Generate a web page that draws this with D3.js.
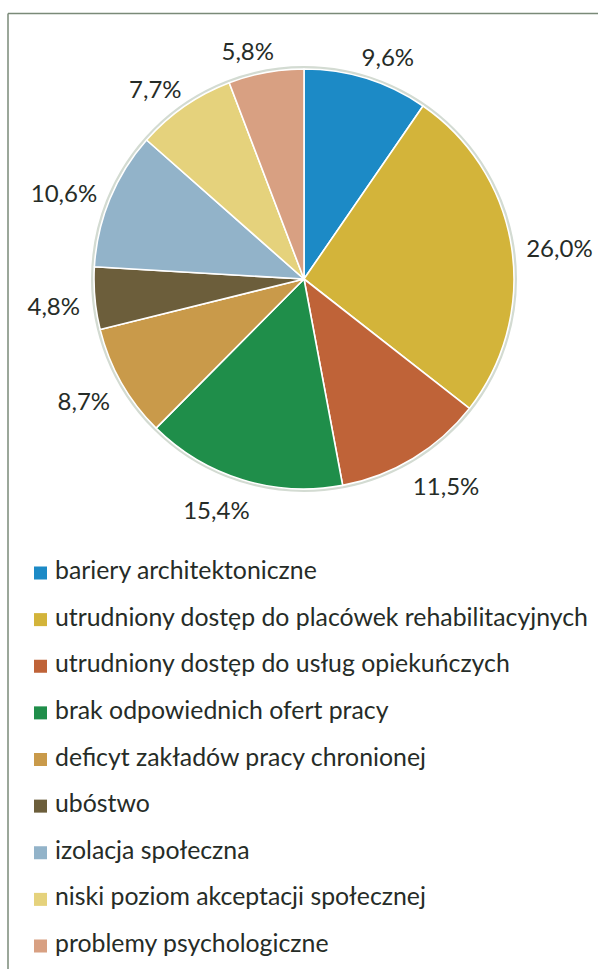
<!DOCTYPE html>
<html>
<head>
<meta charset="utf-8">
<script src="https://cdn.jsdelivr.net/npm/d3@7"></script>
<style>
  html, body { margin: 0; padding: 0; background: #ffffff; }
  svg { display: block; }
  text { font-family: Lato, "Noto Sans", sans-serif; fill: #262c27; }
</style>
</head>
<body>
<svg id="chart" width="598" height="969"></svg>
<script>
// Problems reported by people with disabilities (share of answers, %)
const categories = [
  "bariery architektoniczne",
  "utrudniony dostęp do placówek rehabilitacyjnych",
  "utrudniony dostęp do usług opiekuńczych",
  "brak odpowiednich ofert pracy",
  "deficyt zakładów pracy chronionej",
  "ubóstwo",
  "izolacja społeczna",
  "niski poziom akceptacji społecznej",
  "problemy psychologiczne"
];
const values = [9.6, 26.0, 11.5, 15.4, 8.7, 4.8, 10.6, 7.7, 5.8];
const colors = [
  "#1c8ac6", "#d3b43a", "#bf6338", "#1f8e4a", "#c99a4a",
  "#6c5e3b", "#92b3c9", "#e5d27c", "#d8a082"
];

const W = 598, H = 969;
const svg = d3.select("#chart");

// frame lines (top and left)
svg.append("line").attr("x1", 8).attr("y1", 13.5).attr("x2", W).attr("y2", 13.5)
  .attr("stroke", "#7a8a78").attr("stroke-width", 1.5);
svg.append("line").attr("x1", 8).attr("y1", 13.5).attr("x2", 8).attr("y2", H)
  .attr("stroke", "#7a8a78").attr("stroke-width", 1.5);

const cx = 304, cy = 279, R = 210;
const locale = d3.formatLocale({ decimal: ",", thousands: " ", grouping: [3], currency: ["", " zł"] });
const fmt = v => locale.format(".1f")(v) + "%";

const pie = d3.pie().sort(null).value(d => d)
  .startAngle(0).endAngle(2 * Math.PI);
const arcs = pie(values);
const arc = d3.arc().innerRadius(0).outerRadius(R);

const g = svg.append("g").attr("transform", `translate(${cx},${cy})`);

// soft rim around the pie
g.append("circle").attr("r", R + 1.5).attr("fill", "none")
  .attr("stroke", "#d3dbd2").attr("stroke-width", 3);

g.selectAll("path.slice").data(arcs).join("path")
  .attr("class", "slice")
  .attr("d", arc)
  .attr("fill", (d, i) => colors[i])
  .attr("stroke", "#ffffff")
  .attr("stroke-width", 1.6)
  .attr("stroke-linejoin", "round");

// value labels placed just outside the rim along each slice's mid angle
const gap = 15, boxH = 24;
const labels = g.selectAll("text.val").data(arcs).join("text")
  .attr("class", "val")
  .attr("text-anchor", "middle")
  .attr("font-size", 24)
  .text(d => fmt(d.data));

labels.each(function (d) {
  const a = (d.startAngle + d.endAngle) / 2;
  const ux = Math.sin(a), uy = -Math.cos(a);
  const w = this.getComputedTextLength();
  const kx = (ux * 0.5 + Math.sign(ux) * 0.5) * w / 2;
  const x = ux * (R + gap) + kx;
  const y = uy * (R + gap) + uy * boxH / 2 + 5;
  d3.select(this).attr("x", x).attr("y", y).attr("dy", "0.36em");
});

// legend
const legend = svg.append("g");
const rowY = d3.scaleLinear().domain([0, categories.length - 1]).range([579, 952]);
const rows = legend.selectAll("g").data(categories).join("g")
  .attr("transform", (d, i) => `translate(0,${rowY(i)})`);
rows.append("rect").attr("x", 34).attr("y", -12.5).attr("width", 13).attr("height", 13)
  .attr("fill", (d, i) => colors[i]);
const legendText = rows.append("text").attr("x", 55).attr("y", 0)
  .attr("font-size", 22).text(d => d);

// size legend type so the longest entry runs to the right margin
const longest = d3.max(legendText.nodes(), n => n.getComputedTextLength());
legendText.attr("font-size", 22 * 533 / longest);
</script>
</body>
</html>
